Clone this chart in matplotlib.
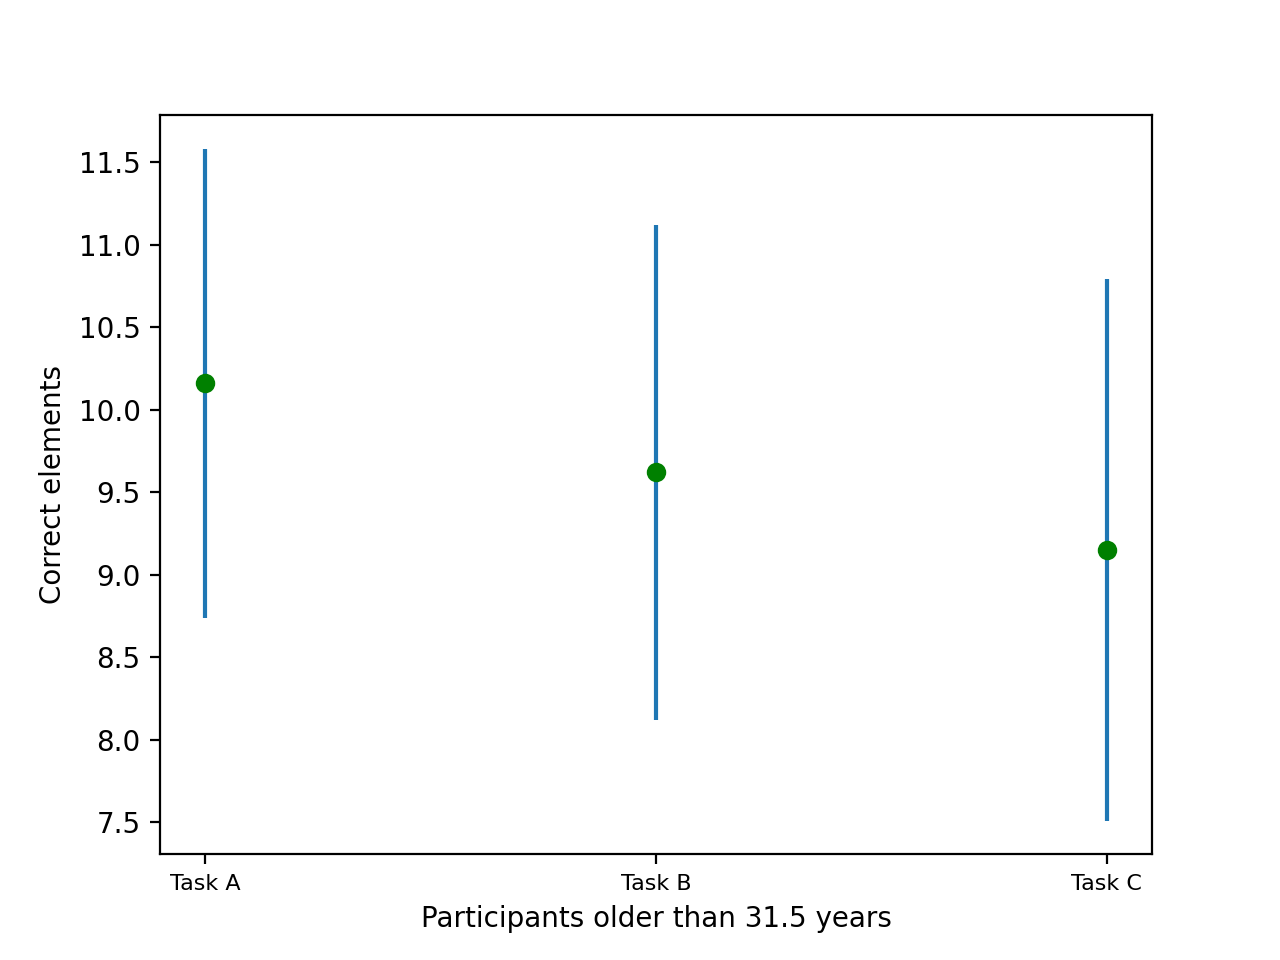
import numpy as np
import matplotlib
matplotlib.use("Agg")
import matplotlib.pyplot as plt

tasks = ["Task A", "Task B", "Task C"]
means = [10.16, 9.62, 9.15]
errors = [1.42, 1.50, 1.64]

x = np.arange(len(tasks))
fig = plt.figure(figsize=(6.4, 4.8), dpi=200)
plt.errorbar(x, means, yerr=errors, fmt='none', ecolor='C0', elinewidth=1.5)
plt.plot(x, means, 'go')
plt.xticks(x, tasks, fontsize=8)
plt.xlabel("Participants older than 31.5 years")
plt.ylabel("Correct elements")
plt.savefig("out.png")
